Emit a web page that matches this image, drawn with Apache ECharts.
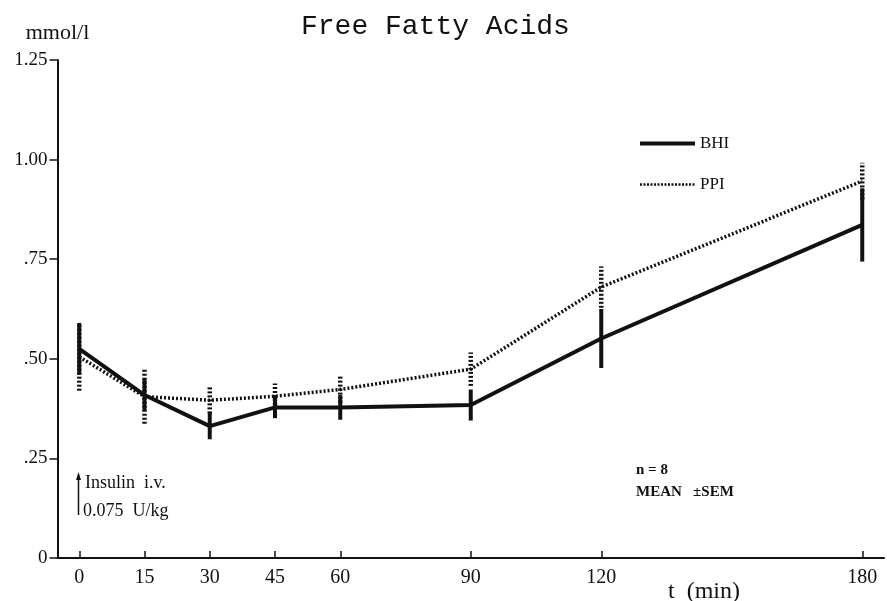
<!DOCTYPE html>
<html>
<head>
<meta charset="utf-8">
<script src="https://cdn.jsdelivr.net/npm/echarts@6/dist/echarts.min.js"></script>
<style>
  html, body { margin: 0; padding: 0; background: #fff; }
  #chart { width: 887px; height: 601px; }
</style>
</head>
<body>
<div id="chart"></div>
<script>
// time points (min)
var times = [0, 15, 30, 45, 60, 90, 120, 180];
var xTicks = [0, 15, 30, 45, 60, 90, 120, 180];
var yTickLabels = ['0', '.25', '.50', '.75', '1.00', '1.25'];

// free fatty acids, mmol/l, mean and SEM
var bhiMean = [0.525, 0.409, 0.331, 0.378, 0.378, 0.384, 0.551, 0.836];
var bhiSem  = [0.065, 0.040, 0.033, 0.027, 0.031, 0.039, 0.074, 0.092];
var ppiMean = [0.505, 0.405, 0.396, 0.406, 0.423, 0.474, 0.680, 0.946];
var ppiSem  = [0.085, 0.068, 0.033, 0.032, 0.033, 0.042, 0.052, 0.046];

var ink = '#111';
var serif = '"Liberation Serif", "DejaVu Serif", serif';

function pairs(ys) {
	return times.map(function(t, i){ return [t, ys[i]]; });
}
function bars(ys, sem) {
	return times.map(function(t, i){ return [t, ys[i] - sem[i], ys[i] + sem[i]]; });
}
function errorBar(dash, width) {
	return function(params, api){
		var p1 = api.coord([api.value(0), api.value(1)]);
		var p2 = api.coord([api.value(0), api.value(2)]);
		return {
			type: 'line',
			shape: {x1: p1[0], y1: p1[1], x2: p2[0], y2: p2[1]},
			style: {stroke: ink, lineWidth: width, lineDash: dash}
		};
	};
}

var myChart = echarts.init(document.getElementById('chart'));

var option = {
	animation: false,
	backgroundColor: '#fff',
	title: {
		text: 'Free Fatty Acids',
		left: 296,
		top: 8,
		textStyle: {fontFamily: '"Liberation Mono", monospace', fontWeight: 'normal', fontSize: 28, color: ink}
	},
	legend: {
		data: [
			{name: 'BHI', lineStyle: {width: 4, type: 'solid'}},
			{name: 'PPI', lineStyle: {width: 2.5, type: [2, 1.5]}}
		],
		orient: 'vertical',
		left: 633,
		top: 130,
		itemWidth: 55,
		itemHeight: 14,
		itemGap: 24,
		itemStyle: {opacity: 0},
		textStyle: {fontFamily: serif, fontSize: 17, color: ink}
	},
	grid: {left: 57.5, right: 3, top: 60, bottom: 43},
	xAxis: {
		type: 'value',
		min: -5,
		max: 185,
		splitLine: {show: false},
		axisLine: {onZero: false, lineStyle: {color: ink, width: 2}},
		axisTick: {inside: true, length: 7, customValues: xTicks, lineStyle: {color: ink, width: 1.5}},
		axisLabel: {customValues: xTicks, margin: 10, fontFamily: serif, fontSize: 20, color: ink}
	},
	yAxis: {
		type: 'value',
		min: 0,
		max: 1.25,
		interval: 0.25,
		name: 'mmol/l',
		nameLocation: 'end',
		nameGap: 16,
		nameTextStyle: {fontFamily: serif, fontSize: 22, color: ink, align: 'center'},
		splitLine: {show: false},
		axisLine: {show: true, onZero: false, lineStyle: {color: ink, width: 2}},
		axisTick: {show: true, length: 8, lineStyle: {color: ink, width: 1.5}},
		axisLabel: {
			margin: 10,
			fontFamily: serif,
			fontSize: 19,
			color: ink,
			formatter: function(v){ return yTickLabels[Math.round(v / 0.25)]; }
		}
	},
	graphic: [
		{type: 'line', shape: {x1: 78.5, y1: 515, x2: 78.5, y2: 478}, style: {stroke: ink, lineWidth: 1.5}},
		{type: 'polygon', shape: {points: [[76, 480], [78.5, 472], [81, 480]]}, style: {fill: ink}},
		{type: 'text', left: 85, top: 474, style: {text: 'Insulin  i.v.', font: '18px ' + serif, fill: ink}},
		{type: 'text', left: 83, top: 502, style: {text: '0.075  U/kg', font: '18px ' + serif, fill: ink}},
		{type: 'text', left: 636, top: 463, style: {text: 'n = 8', font: 'bold 15px ' + serif, fill: ink}},
		{type: 'text', left: 636, top: 485, style: {text: 'MEAN   \u00b1SEM', font: 'bold 15px ' + serif, fill: ink}},
		{type: 'text', left: 668, top: 580, style: {text: 't  (min)', font: '24px ' + serif, fill: ink}}
	],
	series: [
		{
			name: 'PPI',
			type: 'line',
			data: pairs(ppiMean),
			symbol: 'none',
			z: 2,
			lineStyle: {color: ink, width: 3.5, type: [2, 2]},
			itemStyle: {color: ink}
		},
		{
			name: 'BHI',
			type: 'line',
			data: pairs(bhiMean),
			symbol: 'none',
			z: 3,
			lineStyle: {color: ink, width: 4, type: 'solid'},
			itemStyle: {color: ink}
		},
		{
			name: 'PPI SEM',
			type: 'custom',
			data: bars(ppiMean, ppiSem),
			renderItem: errorBar([2, 2], 4.5),
			encode: {x: 0, y: [1, 2]},
			z: 2
		},
		{
			name: 'BHI SEM',
			type: 'custom',
			data: bars(bhiMean, bhiSem),
			renderItem: errorBar(null, 4),
			encode: {x: 0, y: [1, 2]},
			z: 3
		}
	]
};

myChart.setOption(option);
</script>
</body>
</html>
